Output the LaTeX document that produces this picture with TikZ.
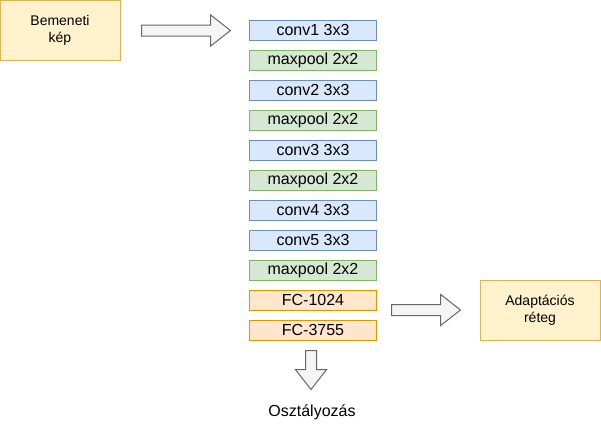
\documentclass[tikz,border=0pt]{standalone}
\usepackage{fontspec}
\setmainfont{Liberation Sans}
\usetikzlibrary{shapes.arrows}
\tikzstyle{layer} = [draw, line width=1pt, minimum width=127pt, minimum height=20pt, inner sep=0pt, font=\fontsize{16}{19}\selectfont]
\tikzstyle{conv} = [layer, fill=convfill, draw=convline]
\tikzstyle{pool} = [layer, fill=poolfill, draw=poolline]
\tikzstyle{fc} = [layer, fill=fcfill, draw=fcline]
\tikzstyle{sidebox} = [draw=sideline, fill=sidefill, line width=1pt, minimum width=120pt, minimum height=60pt, inner sep=0pt, align=center, font=\fontsize{14}{17}\selectfont]
\tikzstyle{bigarrow} = [single arrow, draw=arrowline, fill=arrowfill, line width=1pt, inner sep=5pt, minimum width=0pt, single arrow head extend=10pt, single arrow tip angle=76]

\begin{document}
\begin{tikzpicture}[x=1pt, y=-1pt]
\definecolor{convfill}{HTML}{DAE8FC}
\definecolor{convline}{HTML}{6C8EBF}
\definecolor{poolfill}{HTML}{D5E8D4}
\definecolor{poolline}{HTML}{82B366}
\definecolor{fcfill}{HTML}{FFE6CC}
\definecolor{fcline}{HTML}{D79B00}
\definecolor{sidefill}{HTML}{FFF2CC}
\definecolor{sideline}{HTML}{D6B656}
\definecolor{arrowfill}{HTML}{F5F5F5}
\definecolor{arrowline}{HTML}{666666}

\useasboundingbox (0,0) rectangle (601,431);

\node[sidebox] (input) at (60,30) {Bemeneti\\kép};
\node[sidebox] (adapt) at (540,310) {Adaptációs\\réteg};

\node[conv] (conv_1) at (313,30) {conv1 3x3};
\node[pool] (pool_1) at (313,60) {maxpool 2x2};
\node[conv] (conv_2) at (313,90) {conv2 3x3};
\node[pool] (pool_2) at (313,120) {maxpool 2x2};
\node[conv] (conv_3) at (313,150) {conv3 3x3};
\node[pool] (pool_3) at (313,180) {maxpool 2x2};
\node[conv] (conv_4) at (313,210) {conv4 3x3};
\node[conv] (conv_5) at (313,240) {conv5 3x3};
\node[pool] (pool_4) at (313,270) {maxpool 2x2};
\node[fc] (fc_1) at (313,300) {FC-1024};
\node[fc] (fc_2) at (313,330) {FC-3755};

\node[font=\fontsize{16}{19}\selectfont] (out) at (312,412) {Osztályozás};

\node[bigarrow, anchor=tail, minimum height=89pt] (arr_in) at (141,30.5) {};
\node[bigarrow, anchor=tail, minimum height=69pt] (arr_adapt) at (391,310) {};
\node[bigarrow, anchor=tail, minimum height=39pt, shape border rotate=270] (arr_out) at (311,350) {};

\end{tikzpicture}
\end{document}
